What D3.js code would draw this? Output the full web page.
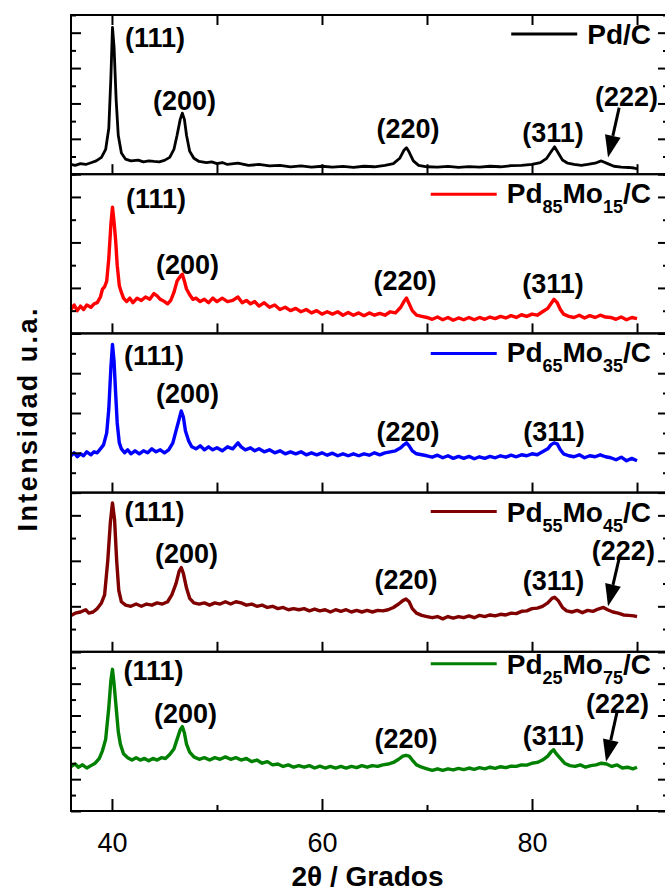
<!DOCTYPE html>
<html>
<head>
<meta charset="utf-8">
<script src="https://cdn.jsdelivr.net/npm/d3@7"></script>
<style>
  body { margin: 0; background: #fff; }
  text { font-family: "Liberation Sans", Arial, sans-serif; }
</style>
</head>
<body>
<svg id="chart" width="665" height="894"></svg>
<script>
// ---- data (2theta in degrees, intensity in arbitrary units per panel) ----
const xDomain = [36.1, 92.95];
const xTickValues = [40, 50, 60, 70, 80, 90];
const xLabelValues = [40, 60, 80];

const sampleNames = [
  [["Pd/C", 0]],
  [["Pd", 0], ["85", 1], ["Mo", 0], ["15", 1], ["/C", 0]],
  [["Pd", 0], ["65", 1], ["Mo", 0], ["35", 1], ["/C", 0]],
  [["Pd", 0], ["55", 1], ["Mo", 0], ["45", 1], ["/C", 0]],
  [["Pd", 0], ["25", 1], ["Mo", 0], ["75", 1], ["/C", 0]]
];
const sampleColors = ["#000000", "#ff0000", "#0000ff", "#800000", "#008000"];
const yMax = [9, 7, 8, 7, 10];

const pdC = [[36.1,0.55],[36.5,0.5],[37,0.6],[37.5,0.55],[38,0.65],[38.5,0.75],[39,0.95],[39.4,1.4],[39.7,2.6],[39.9,5.5],[40.05,8.3],[40.2,7.2],[40.4,4.2],[40.6,2.2],[40.9,1.2],[41.3,0.85],[41.8,0.75],[42.5,0.8],[43,0.7],[43.5,0.75],[44,0.72],[44.5,0.7],[45,0.78],[45.5,0.95],[45.9,1.4],[46.2,2.2],[46.5,3.1],[46.7,3.45],[46.9,3.1],[47.1,2.2],[47.4,1.3],[47.8,0.9],[48.3,0.72],[49,0.65],[49.5,0.7],[50,0.6],[50.5,0.66],[51,0.55],[52,0.62],[53,0.5],[54,0.55],[55,0.47],[56,0.5],[57,0.42],[58,0.47],[59,0.4],[60,0.45],[61,0.4],[62,0.44],[63,0.38],[64,0.45],[65,0.42],[66,0.5],[66.8,0.6],[67.4,0.9],[67.8,1.35],[68.05,1.5],[68.3,1.25],[68.7,0.75],[69.2,0.5],[70,0.42],[71,0.4],[72,0.44],[73,0.38],[74,0.43],[75,0.4],[76,0.45],[77,0.42],[78,0.48],[79,0.5],[80,0.55],[80.8,0.65],[81.4,0.9],[81.8,1.25],[82.15,1.55],[82.5,1.2],[82.9,0.8],[83.4,0.62],[84,0.55],[84.7,0.5],[85.3,0.55],[86,0.62],[86.6,0.75],[87.2,0.6],[87.8,0.45],[88.5,0.4],[89.2,0.38],[89.7,0.35],[90,0.3]];

const pd85Mo15 = [[36.1,1.05],[36.4,1.25],[36.7,1.0],[37,1.2],[37.3,1.05],[37.6,1.25],[38,1.15],[38.3,1.3],[38.6,1.35],[38.9,1.6],[39.1,1.95],[39.3,2.05],[39.5,2.3],[39.7,3.3],[39.9,4.8],[40.05,5.55],[40.2,4.9],[40.35,4.1],[40.5,3.0],[40.7,2.1],[40.9,1.8],[41.1,1.55],[41.4,1.4],[41.7,1.55],[42,1.35],[42.4,1.55],[42.8,1.45],[43.2,1.6],[43.6,1.5],[44,1.75],[44.3,1.65],[44.6,1.5],[45,1.4],[45.3,1.3],[45.6,1.45],[45.9,1.8],[46.2,2.3],[46.5,2.5],[46.7,2.6],[46.9,2.3],[47.1,1.95],[47.4,1.7],[47.7,1.5],[48,1.55],[48.4,1.4],[48.8,1.5],[49.2,1.35],[49.6,1.55],[50,1.4],[50.5,1.55],[51,1.4],[51.5,1.45],[52,1.6],[52.4,1.35],[52.8,1.45],[53.2,1.3],[53.6,1.4],[54,1.2],[54.5,1.35],[55,1.15],[55.5,1.25],[56,1.05],[56.5,1.15],[57,1.0],[57.5,1.1],[58,0.95],[58.5,1.05],[59,0.9],[59.5,1.0],[60,0.85],[60.5,0.95],[61,0.85],[61.5,0.95],[62,0.8],[62.5,0.92],[63,0.8],[63.5,0.9],[64,0.78],[64.5,0.9],[65,0.8],[65.5,0.88],[66,0.8],[66.5,0.95],[67,0.9],[67.5,1.15],[67.8,1.4],[68.05,1.55],[68.3,1.3],[68.6,1.0],[69,0.8],[69.5,0.75],[70,0.7],[70.5,0.62],[71,0.72],[71.5,0.6],[72,0.7],[72.5,0.58],[73,0.68],[73.5,0.6],[74,0.7],[74.5,0.6],[75,0.7],[75.5,0.62],[76,0.72],[76.5,0.65],[77,0.75],[77.5,0.68],[78,0.78],[78.5,0.7],[79,0.82],[79.5,0.75],[80,0.85],[80.5,0.8],[81,0.95],[81.5,1.1],[81.8,1.3],[82.1,1.5],[82.4,1.35],[82.7,1.05],[83,0.85],[83.5,0.75],[84,0.7],[84.5,0.8],[85,0.68],[85.5,0.78],[86,0.7],[86.5,0.8],[87,0.72],[87.5,0.7],[88,0.62],[88.5,0.72],[89,0.6],[89.5,0.7],[90,0.65]];

const pd65Mo35 = [[36.1,1.85],[36.4,2.0],[36.7,1.8],[37,1.95],[37.3,1.85],[37.6,2.05],[38,1.9],[38.3,2.05],[38.6,2.0],[38.9,2.2],[39.2,2.4],[39.5,3.0],[39.7,4.2],[39.9,6.3],[40.05,7.45],[40.2,6.6],[40.35,5.0],[40.5,3.5],[40.7,2.5],[40.9,2.2],[41.2,2.0],[41.5,2.15],[41.8,1.95],[42.2,2.1],[42.6,1.95],[43,2.1],[43.4,2.0],[43.8,2.2],[44.2,2.05],[44.6,2.15],[45,2.0],[45.4,2.15],[45.8,2.5],[46.1,3.1],[46.4,3.7],[46.6,4.1],[46.8,3.8],[47,3.1],[47.3,2.6],[47.6,2.3],[48,2.2],[48.4,2.35],[48.8,2.15],[49.2,2.3],[49.6,2.15],[50,2.25],[50.5,2.1],[51,2.3],[51.5,2.2],[52,2.5],[52.3,2.3],[52.7,2.15],[53.2,2.25],[53.6,2.1],[54,2.2],[54.5,2.05],[55,2.15],[55.5,2.0],[56,2.1],[56.5,1.95],[57,2.05],[57.5,1.95],[58,2.05],[58.5,1.9],[59,2.0],[59.5,1.9],[60,2.0],[60.5,1.88],[61,1.98],[61.5,1.85],[62,1.95],[62.5,1.85],[63,1.95],[63.5,1.85],[64,1.95],[64.5,1.88],[65,2.0],[65.5,1.9],[66,2.0],[66.5,2.05],[67,2.1],[67.5,2.25],[67.8,2.4],[68.05,2.5],[68.3,2.35],[68.6,2.1],[69,1.95],[69.5,1.9],[70,1.85],[70.5,1.78],[71,1.88],[71.5,1.75],[72,1.85],[72.5,1.72],[73,1.82],[73.5,1.72],[74,1.82],[74.5,1.7],[75,1.8],[75.5,1.72],[76,1.82],[76.5,1.75],[77,1.85],[77.5,1.78],[78,1.88],[78.5,1.8],[79,1.9],[79.5,1.85],[80,1.95],[80.5,1.9],[81,2.05],[81.5,2.2],[81.8,2.4],[82.1,2.5],[82.4,2.45],[82.7,2.15],[83,1.95],[83.5,1.85],[84,1.8],[84.5,1.9],[85,1.75],[85.5,1.85],[86,1.8],[86.5,1.9],[87,1.8],[87.5,1.75],[88,1.65],[88.5,1.78],[89,1.6],[89.5,1.72],[90,1.6]];

const pd55Mo45 = [[36.1,1.6],[36.5,1.7],[37,1.75],[37.5,1.85],[37.8,1.7],[38.2,1.75],[38.6,1.9],[39,2.15],[39.3,2.5],[39.6,4.0],[39.85,5.7],[40.05,6.55],[40.25,5.8],[40.45,4.0],[40.65,2.7],[40.9,2.2],[41.3,2.05],[41.8,2.0],[42.3,2.1],[42.8,2.0],[43.3,2.1],[43.8,2.05],[44.3,2.15],[44.8,2.1],[45.3,2.2],[45.7,2.5],[46.1,3.0],[46.4,3.55],[46.6,3.7],[46.8,3.45],[47.1,2.8],[47.4,2.35],[47.8,2.15],[48.3,2.1],[48.8,2.15],[49.3,2.05],[49.8,2.15],[50.3,2.1],[50.8,2.2],[51.3,2.1],[51.8,2.2],[52.3,2.15],[52.8,2.05],[53.3,2.1],[53.8,2.0],[54.3,2.05],[54.8,1.95],[55.3,2.0],[55.8,1.9],[56.3,1.95],[56.8,1.85],[57.3,1.9],[57.8,1.85],[58.3,1.9],[58.8,1.8],[59.3,1.88],[59.8,1.8],[60.3,1.85],[60.8,1.75],[61.3,1.85],[61.8,1.78],[62.3,1.85],[62.8,1.75],[63.3,1.82],[63.8,1.75],[64.3,1.82],[64.8,1.75],[65.3,1.82],[65.8,1.8],[66.3,1.85],[66.8,1.95],[67.3,2.1],[67.7,2.25],[68.0,2.32],[68.3,2.2],[68.6,1.9],[69,1.7],[69.5,1.6],[70,1.55],[70.5,1.5],[71,1.55],[71.5,1.45],[72,1.55],[72.5,1.48],[73,1.55],[73.5,1.5],[74,1.58],[74.5,1.5],[75,1.6],[75.5,1.55],[76,1.62],[76.5,1.58],[77,1.65],[77.5,1.62],[78,1.7],[78.5,1.68],[79,1.78],[79.5,1.8],[80,1.9],[80.5,1.92],[81,2.0],[81.5,2.15],[81.9,2.35],[82.15,2.4],[82.5,2.25],[82.9,1.95],[83.3,1.8],[83.8,1.75],[84.3,1.82],[84.8,1.72],[85.3,1.82],[85.8,1.78],[86.3,1.88],[86.8,1.95],[87.2,1.85],[87.7,1.75],[88.2,1.7],[88.7,1.62],[89.2,1.6],[89.7,1.58],[90,1.55]];

const pd25Mo75 = [[36.1,2.8],[36.5,2.95],[36.8,2.75],[37.2,2.9],[37.6,2.7],[38,2.85],[38.4,3.0],[38.8,3.3],[39.1,3.8],[39.4,4.5],[39.7,6.5],[39.9,8.2],[40.05,8.9],[40.2,8.0],[40.4,6.5],[40.6,5.0],[40.8,4.2],[41.1,3.6],[41.5,3.35],[41.9,3.2],[42.3,3.35],[42.7,3.2],[43.1,3.3],[43.5,3.15],[43.9,3.3],[44.3,3.2],[44.7,3.35],[45.1,3.3],[45.5,3.55],[45.9,3.9],[46.2,4.5],[46.5,5.1],[46.7,5.3],[46.9,4.9],[47.1,4.2],[47.4,3.7],[47.8,3.4],[48.3,3.25],[48.8,3.35],[49.3,3.2],[49.8,3.35],[50.3,3.25],[50.8,3.4],[51.3,3.25],[51.8,3.35],[52.3,3.2],[52.8,3.3],[53.3,3.1],[53.8,3.2],[54.3,3.0],[54.8,3.1],[55.3,2.9],[55.8,2.95],[56.3,2.8],[56.8,2.9],[57.3,2.75],[57.8,2.85],[58.3,2.75],[58.8,2.85],[59.3,2.7],[59.8,2.82],[60.3,2.7],[60.8,2.8],[61.3,2.7],[61.8,2.8],[62.3,2.7],[62.8,2.8],[63.3,2.72],[63.8,2.85],[64.3,2.75],[64.8,2.85],[65.3,2.8],[65.8,2.9],[66.3,2.95],[66.8,3.05],[67.3,3.25],[67.7,3.45],[68.0,3.5],[68.3,3.45],[68.6,3.2],[69,2.9],[69.5,2.75],[70,2.65],[70.5,2.55],[71,2.65],[71.5,2.55],[72,2.65],[72.5,2.58],[73,2.68],[73.5,2.6],[74,2.7],[74.5,2.62],[75,2.72],[75.5,2.65],[76,2.75],[76.5,2.68],[77,2.78],[77.5,2.72],[78,2.82],[78.5,2.8],[79,2.9],[79.5,2.88],[80,3.0],[80.5,3.05],[81,3.2],[81.5,3.45],[81.8,3.7],[82.05,3.85],[82.3,3.6],[82.7,3.3],[83.1,3.0],[83.6,2.85],[84.1,2.8],[84.6,2.9],[85.1,2.75],[85.6,2.85],[86.1,2.9],[86.6,3.0],[87.1,2.95],[87.6,2.8],[88.1,2.9],[88.6,2.7],[89.1,2.75],[89.6,2.65],[90,2.75]];

const series = [pdC, pd85Mo15, pd65Mo35, pd55Mo45, pd25Mo75];

// peak labels: [text, 2theta, intensity] in each panel's own units
const peakLabels = [
  [["(111)", 44.1, 7.2], ["(200)", 46.9, 3.65], ["(220)", 68.2, 2.05], ["(311)", 82.0, 1.82], ["(222)", 89.0, 3.85]],
  [["(111)", 44.2, 5.5], ["(200)", 47.2, 2.6], ["(220)", 67.9, 1.9], ["(311)", 82.0, 1.76]],
  [["(111)", 44.0, 6.4], ["(200)", 47.2, 4.48], ["(220)", 68.2, 2.6], ["(311)", 82.1, 2.6]],
  [["(111)", 44.05, 5.75], ["(200)", 47.1, 3.92], ["(220)", 68.0, 2.77], ["(311)", 82.05, 2.73], ["(222)", 88.7, 4.05]],
  [["(111)", 43.95, 8.2], ["(200)", 47.0, 5.5], ["(220)", 68.0, 3.96], ["(311)", 82.05, 4.15], ["(222)", 88.14, 6.15]]
];
// arrows toward (222): [2theta0, I0, 2theta1, I1]
const arrows222 = [[88.3, 3.76, 87.24, 0.95], null, null, [88.38, 4.27, 87.24, 2.0], [88.1, 6.23, 87.05, 3.1]];

// ---- layout ----
const M = { L: 71, R: 668, T: 15, B: 811 };
const nPanels = series.length;
const panelH = (M.B - M.T) / nPanels;
const legendDy = [[19, 29], [20, 29], [20, 29], [19, 29], [12, 22]];

const svg = d3.select("#chart");
const x = d3.scaleLinear().domain(xDomain).range([M.L, M.R]);

const lineGen = (y) => d3.line().x(d => x(d[0])).y(d => y(d[1]));

series.forEach((data, i) => {
  const y0 = M.T + i * panelH, y1 = y0 + panelH;
  const y = d3.scaleLinear().domain([0, yMax[i]]).range([y1, y0]);
  const g = svg.append("g");

  // curve
  g.append("path").datum(data).attr("d", lineGen(y))
    .attr("fill", "none").attr("stroke", sampleColors[i])
    .attr("stroke-width", i === 0 ? 2.8 : 3.4).attr("stroke-linejoin", "round");

  // y ticks, inward on both sides, even long / odd short
  const even = d3.range(0, yMax[i] + 1, 2), odd = d3.range(1, yMax[i] + 1, 2);
  [[even, 10], [odd, 5]].forEach(([vals, len]) => {
    g.append("g").attr("transform", `translate(${M.L},0)`)
      .call(d3.axisLeft(y).tickValues(vals).tickSize(-len).tickFormat(""))
      .call(a => a.select(".domain").remove());
    g.append("g").attr("transform", `translate(${M.R},0)`)
      .call(d3.axisRight(y).tickValues(vals).tickSize(-len).tickFormat(""))
      .call(a => a.select(".domain").remove());
  });

  // bottom ticks of each panel (pointing up)
  if (i < nPanels - 1) {
    g.append("g").attr("transform", `translate(0,${y1})`)
      .call(d3.axisBottom(x).tickValues(xTickValues).tickSize(-10).tickFormat(""))
      .call(a => a.select(".domain").remove());
  }

  // panel frame
  g.append("rect").attr("x", M.L).attr("y", y0).attr("width", M.R - M.L).attr("height", panelH)
    .attr("fill", "none").attr("stroke", "#000").attr("stroke-width", 2);

  // peak labels
  g.selectAll(".pk").data(peakLabels[i]).join("text").attr("class", "pk")
    .attr("x", d => x(d[1])).attr("y", d => y(d[2]))
    .attr("text-anchor", "middle").attr("font-size", 27).attr("font-weight", "bold")
    .text(d => d[0]);

  // arrow
  const ar = arrows222[i];
  if (ar) {
    const ax0 = x(ar[0]), ay0 = y(ar[1]), ax1 = x(ar[2]), ay1 = y(ar[3]);
    const dx = ax1 - ax0, dy = ay1 - ay0, L = Math.hypot(dx, dy), ux = dx / L, uy = dy / L;
    const hl = 22, hw = 8;
    const bx = ax1 - ux * hl, by = ay1 - uy * hl;
    g.append("line").attr("x1", ax0).attr("y1", ay0).attr("x2", bx).attr("y2", by)
      .attr("stroke", "#000").attr("stroke-width", 3);
    g.append("polygon").attr("points", [[ax1, ay1], [bx - uy * hw, by + ux * hw], [bx + uy * hw, by - ux * hw]].join(" "))
      .attr("fill", "#000");
  }

  // legend
  const lt = g.append("text").attr("x", 651).attr("y", y0 + legendDy[i][1])
    .attr("text-anchor", "end").attr("font-size", 28).attr("font-weight", "bold");
  sampleNames[i].forEach(([s, sub], k) => {
    const ts = lt.append("tspan").text(s);
    if (sub) ts.attr("font-size", 18).attr("dy", 10);
    else if (k > 0 && sampleNames[i][k - 1][1]) ts.attr("dy", -10);
  });
  const bb = lt.node().getBBox();
  g.append("line").attr("x1", bb.x - 76).attr("x2", bb.x - 10)
    .attr("y1", y0 + legendDy[i][0]).attr("y2", y0 + legendDy[i][0])
    .attr("stroke", sampleColors[i]).attr("stroke-width", 3);
});

// top axis ticks
svg.append("g").attr("transform", `translate(0,${M.T})`)
  .call(d3.axisTop(x).tickValues(xTickValues).tickSize(-10).tickFormat(""))
  .call(a => a.select(".domain").remove());

// bottom axis: major and minor
svg.append("g").attr("transform", `translate(0,${M.B})`)
  .call(d3.axisBottom(x).tickValues(xLabelValues).tickSize(-12).tickFormat(d3.format("d")))
  .call(a => a.select(".domain").remove())
  .call(a => a.selectAll("text").attr("dy", null).attr("y", 41)
    .attr("font-size", 27).attr("fill", "#000").style("font-family", "'Liberation Sans', Arial, sans-serif"));
svg.append("g").attr("transform", `translate(0,${M.B})`)
  .call(d3.axisBottom(x).tickValues(xTickValues.filter(v => !xLabelValues.includes(v))).tickSize(-6).tickFormat(""))
  .call(a => a.select(".domain").remove());

svg.selectAll(".tick line").attr("stroke", "#000").attr("stroke-width", 2);

// axis titles
svg.append("text").attr("x", (M.L + M.R) / 2 - 2).attr("y", 886)
  .attr("text-anchor", "middle").attr("font-size", 28).attr("font-weight", "bold")
  .text("2θ / Grados");
svg.append("text").attr("transform", `translate(37,${(M.T + M.B) / 2 + 7}) rotate(-90)`)
  .attr("text-anchor", "middle").attr("font-size", 27).attr("font-weight", "bold")
  .attr("textLength", 223).attr("lengthAdjust", "spacing")
  .text("Intensidad u.a.");
</script>
</body>
</html>
